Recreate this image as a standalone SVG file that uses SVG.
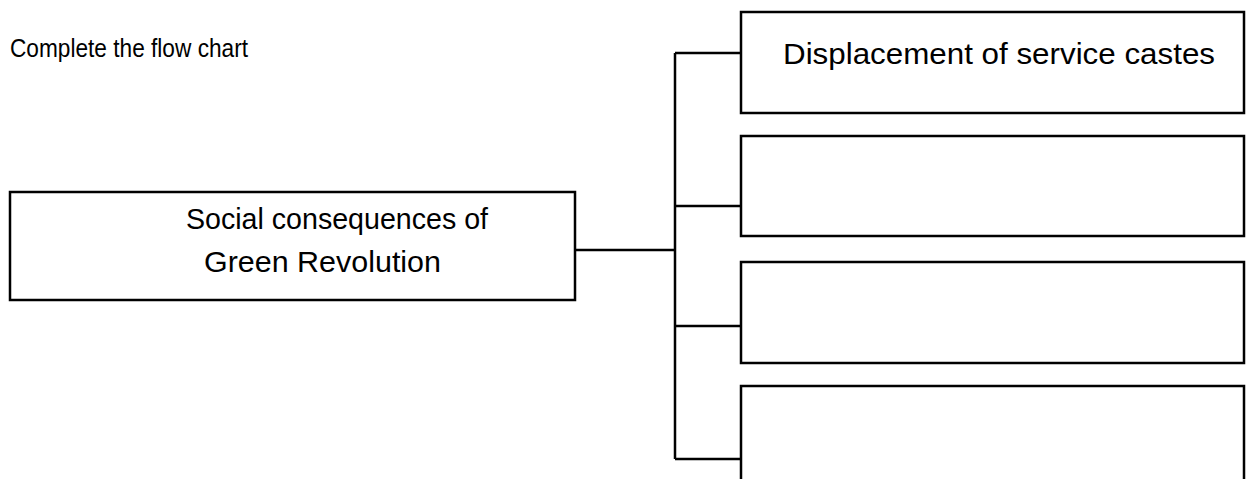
<svg xmlns="http://www.w3.org/2000/svg" width="1250" height="479" viewBox="0 0 1250 479">
<style>
.box{fill:#fff;stroke:#000;stroke-width:2.5}
.ln{fill:none;stroke:#000;stroke-width:2.5}
.t{font-family:"Liberation Sans",Arial,sans-serif;fill:#000}
</style>
<rect width="1250" height="479" fill="#fff"/>
<text class="t" x="10" y="57" font-size="25" textLength="238" lengthAdjust="spacingAndGlyphs">Complete the flow chart</text>
<g id="connectors">
<path class="ln" d="M575,250 H675 M675,53 V459 M675,53 H741 M675,206 H741 M675,326 H741 M675,459 H741"/>
</g>
<g id="node-main">
<rect class="box" x="10" y="192" width="565" height="108"/>
<text class="t" x="186" y="229" font-size="29" textLength="302" lengthAdjust="spacingAndGlyphs">Social consequences of</text>
<text class="t" x="204" y="272" font-size="29" textLength="237" lengthAdjust="spacingAndGlyphs">Green Revolution</text>
</g>
<g id="node-1">
<rect class="box" x="741" y="12" width="503" height="101"/>
<text class="t" x="783" y="64" font-size="30" textLength="432" lengthAdjust="spacingAndGlyphs">Displacement of service castes</text>
</g>
<g id="node-2">
<rect class="box" x="741" y="136" width="503" height="100"/>
</g>
<g id="node-3">
<rect class="box" x="741" y="262" width="503" height="101"/>
</g>
<g id="node-4">
<rect class="box" x="741" y="386" width="503" height="110"/>
</g>
</svg>
